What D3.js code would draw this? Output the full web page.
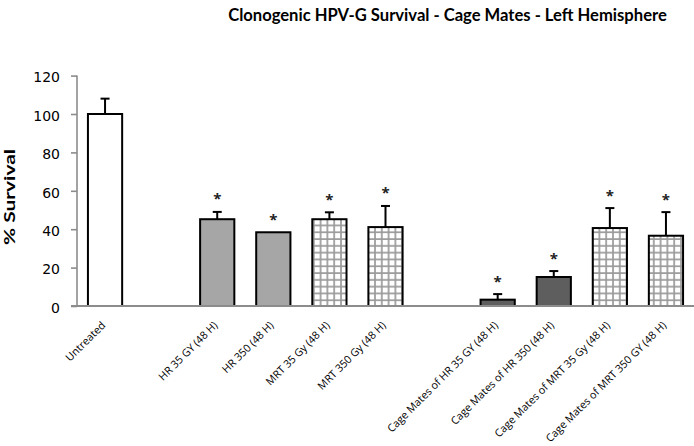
<!DOCTYPE html>
<html>
<head>
<meta charset="utf-8">
<script src="https://cdn.jsdelivr.net/npm/d3@7/dist/d3.min.js"></script>
<style>
  html, body { margin: 0; padding: 0; background: #fff; }
  svg { display: block; }
</style>
</head>
<body>
<svg id="chart" width="694" height="446"></svg>
<script>
// ---- data ----
const categories = [
  "Untreated", "", "HR 35 GY (48 H)", "HR 350 (48 H)", "MRT 35 Gy (48 H)", "MRT 350 Gy (48 H)", " ",
  "Cage Mates of HR 35 GY (48 H)", "Cage Mates of HR 350 (48 H)",
  "Cage Mates of MRT 35 Gy (48 H)", "Cage Mates of MRT 350 GY (48 H)"
];
const values   = [100, null, 45.2, 38.4, 45.2, 41.1, null, 3.3, 15.1, 40.6, 36.6];
const errors   = [8,   null, 3.8,  0,    3.6,  11,   null, 2.9, 3.1,  10.4, 12.3];
const starred  = [false, false, true, true, true, true, false, true, true, true, true];
const fillType = ["white", null, "light", "light", "grid", "grid", null, "dark", "dark", "grid", "grid"];
const yTicks   = [0, 20, 40, 60, 80, 100, 120];
const title    = "Clonogenic HPV-G Survival - Cage Mates - Left Hemisphere";
const yLabel   = "% Survival";

// ---- layout ----
const svg = d3.select("#chart");
const pLeft = 77, pRight = 694, pTop = 75.6, pBottom = 306;

const x = d3.scaleBand().domain(d3.range(categories.length)).range([pLeft, pRight]).paddingInner(0.39).paddingOuter(0.195);
const y = d3.scaleLinear().domain([0, 120]).range([pBottom, pTop]);

const defs = svg.append("defs");
const pat = defs.append("pattern").attr("id", "grid").attr("patternUnits", "userSpaceOnUse")
  .attr("width", 6.8).attr("height", 6.8).attr("x", 0).attr("y", 0);
pat.append("rect").attr("width", 6.8).attr("height", 6.8).attr("fill", "#fff");
pat.append("path").attr("d", "M0,1 H6.8 M1,0 V6.8").attr("stroke", "#9a9a9a").attr("stroke-width", 1.7);

const fills = { white: "#ffffff", light: "#a6a6a6", dark: "#5e5e5e", grid: "url(#grid)" };

// title
svg.append("text").attr("x", 447.5).attr("y", 21).attr("text-anchor", "middle")
  .attr("font-family", "Lato, 'Open Sans', sans-serif").attr("font-weight", "bold").attr("font-size", 16.6)
  .attr("fill", "#000").text(title);

// y axis label
svg.append("text").attr("transform", `translate(14.5,197) rotate(-90)`)
  .attr("text-anchor", "middle").attr("font-family", "Lato, 'Open Sans', sans-serif")
  .attr("font-weight", "bold").attr("font-size", 15).attr("textLength", 96).attr("lengthAdjust", "spacingAndGlyphs")
  .text(yLabel);

// y axis
const yAxis = svg.append("g").attr("transform", `translate(${pLeft},0)`)
  .call(d3.axisLeft(y).tickValues(yTicks).tickSize(6).tickPadding(11));
yAxis.select(".domain").attr("stroke", "#8c8c8c").attr("stroke-width", 1.6).attr("d", `M0,${pTop}V${pBottom}`);
yAxis.selectAll(".tick line").attr("stroke", "#8c8c8c").attr("stroke-width", 1.6);
yAxis.selectAll(".tick text").attr("font-family", "'DejaVu Sans', sans-serif").attr("font-size", 14)
  .attr("fill", "#000").attr("dy", "0.45em");

// bars
const idx = d3.range(categories.length).filter(i => values[i] !== null);
svg.append("g").selectAll("rect").data(idx).join("rect")
  .attr("x", i => x(i)).attr("width", x.bandwidth())
  .attr("y", i => y(values[i])).attr("height", i => y(0) - y(values[i]))
  .attr("fill", i => fills[fillType[i]]).attr("stroke", "#000").attr("stroke-width", 2);

// x axis line
const xAxis = svg.append("g").attr("transform", `translate(0,${pBottom})`)
  .call(d3.axisBottom(x).tickSize(0).tickFormat(""));
xAxis.select(".domain").attr("stroke", "#8c8c8c").attr("stroke-width", 1.8).attr("d", `M${pLeft - 6},0H${pRight}`);

// x labels
svg.append("g").selectAll("text").data(idx).join("text")
  .attr("transform", i => `translate(${x(i) + x.bandwidth() / 2 + 1},${pBottom + 20}) rotate(-45)`)
  .attr("text-anchor", "end").attr("font-family", "'Open Sans', sans-serif").attr("font-size", 10.7)
  .attr("fill", "#000").text(i => categories[i]);

// error bars
const eidx = idx.filter(i => errors[i] > 0);
const eg = svg.append("g").attr("stroke", "#000").attr("stroke-width", 2);
eg.selectAll("line.v").data(eidx).join("line").attr("class", "v")
  .attr("x1", i => x(i) + x.bandwidth() / 2).attr("x2", i => x(i) + x.bandwidth() / 2)
  .attr("y1", i => y(values[i])).attr("y2", i => y(values[i] + errors[i]));
eg.selectAll("line.c").data(eidx).join("line").attr("class", "c")
  .attr("x1", i => x(i) + x.bandwidth() / 2 - 4.5).attr("x2", i => x(i) + x.bandwidth() / 2 + 4.5)
  .attr("y1", i => y(values[i] + errors[i])).attr("y2", i => y(values[i] + errors[i]));

// asterisks
svg.append("g").selectAll("text").data(idx.filter(i => starred[i])).join("text")
  .attr("x", i => x(i) + x.bandwidth() / 2).attr("y", i => y(values[i] + errors[i]) - 7.5)
  .attr("text-anchor", "middle").attr("font-family", "'Open Sans', sans-serif").attr("font-weight", "bold")
  .attr("font-size", 15).attr("fill", "#222").text("*");
</script>
</body>
</html>
